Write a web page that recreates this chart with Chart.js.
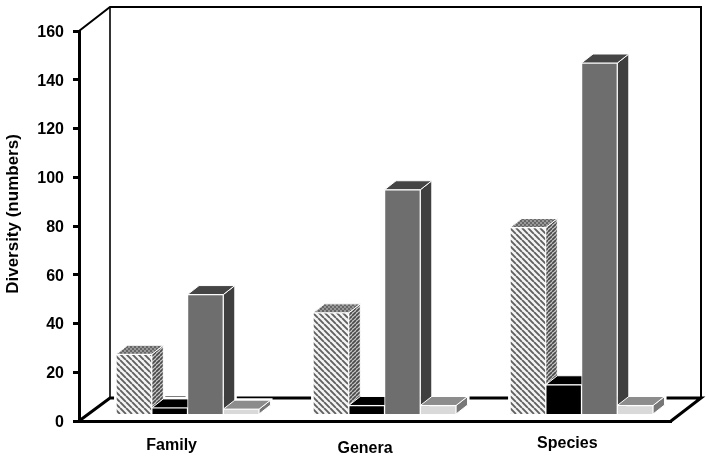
<!DOCTYPE html>
<html><head><meta charset="utf-8">
<style>html,body{margin:0;padding:0;background:#fff}canvas{display:block}</style>
<script src="https://cdn.jsdelivr.net/npm/chart.js@4"></script></head>
<body><canvas id="c" width="709" height="458"></canvas>
<script>
const categories = ["Family", "Genera", "Species"];
const seriesA = [24.5, 41.5, 76.5];
const seriesB = [2.5, 3.5, 12];
const seriesC = [49, 92, 144];
const seriesD = [2, 3.5, 3.5];
const yTitle = "Diversity (numbers)";

function tile(bg, fg, size, lw, dir) {
  const c = document.createElement('canvas'); c.width = c.height = size;
  const g = c.getContext('2d');
  g.fillStyle = bg; g.fillRect(0, 0, size, size);
  g.strokeStyle = fg; g.lineWidth = lw; g.beginPath();
  for (let i = -size; i <= size * 2; i += size) {
    g.moveTo(i, 0); g.lineTo(i + size * dir, size);
  }
  g.stroke();
  return g.createPattern(c, 'repeat');
}
function dots(bg, fg) {
  const c = document.createElement('canvas'); c.width = c.height = 4;
  const g = c.getContext('2d');
  g.fillStyle = bg; g.fillRect(0, 0, 4, 4);
  g.fillStyle = fg; g.fillRect(0, 0, 2, 2); g.fillRect(2, 2, 2, 2);
  return g.createPattern(c, 'repeat');
}
const frontHatch = tile('#f4f4f4', '#606060', 6, 1.9, 1);
const sideHatch = tile('#c8c8c8', '#4a4a4a', 4, 1.7, -1);
const topHatch = dots('#999999', '#666666');

const faces = [
  {side: sideHatch, top: topHatch},
  {side: '#000000', top: '#000000'},
  {side: '#3f3f3f', top: '#454545'},
  {side: '#777777', top: '#8c8c8c'}
];
const fronts = [frontHatch, '#000000', '#6e6e6e', '#d9d9d9'];
const DX = 11.5, DY = 9;
const WX = 31, WY = 24;
const labelNudge = [[-6, 2], [-10, 5], [-5, 0]];

const box3d = {
  id: 'box3d',
  beforeDraw(chart) {
    chart.scales.x.getLabelItems().forEach((it, i) => {
      if (it._moved) return;
      it.options.translation = [it.options.translation[0] + labelNudge[i][0],
                                it.options.translation[1] + labelNudge[i][1]];
      it._moved = true;
    });
  },
  beforeDatasetsDraw(chart) {
    const g = chart.ctx, a = chart.chartArea;
    g.save();
    g.strokeStyle = '#000'; g.lineJoin = 'miter';
    g.lineWidth = 2;
    g.beginPath();
    g.moveTo(a.left, a.top); g.lineTo(a.left + WX, a.top - WY);
    g.lineTo(a.right + WX - 1, a.top - WY);
    g.lineTo(a.right + WX - 1, a.bottom - WY + 1);
    g.stroke();
    g.lineWidth = 1.6;
    g.beginPath();
    g.moveTo(a.left + WX, a.top - WY); g.lineTo(a.left + WX, a.bottom - WY + 1);
    g.stroke();
    g.lineWidth = 3;
    g.beginPath();
    g.moveTo(a.left, a.bottom); g.lineTo(a.left + WX, a.bottom - WY + 1);
    g.lineTo(a.right + WX - 1, a.bottom - WY + 1);
    g.lineTo(a.right, a.bottom);
    g.stroke();
    g.strokeStyle = '#fff';
    chart.data.datasets.forEach((ds, d) => {
      chart.getDatasetMeta(d).data.forEach(b => {
        const p = b.getProps(['x', 'y', 'base', 'width'], true);
        const l = p.x - p.width / 2, r = p.x + p.width / 2;
        g.lineWidth = 4;
        g.beginPath();
        g.moveTo(l, p.base); g.lineTo(l, p.y); g.lineTo(l + DX, p.y - DY);
        g.lineTo(r + DX, p.y - DY); g.lineTo(r + DX, p.base - DY); g.lineTo(r, p.base);
        g.closePath(); g.stroke();
      });
    });
    g.lineWidth = 1;
    chart.data.datasets.forEach((ds, d) => {
      chart.getDatasetMeta(d).data.forEach(b => {
        const p = b.getProps(['x', 'y', 'base', 'width'], true);
        const l = p.x - p.width / 2, r = p.x + p.width / 2;
        g.fillStyle = faces[d].side;
        g.beginPath();
        g.moveTo(r, p.y); g.lineTo(r + DX, p.y - DY);
        g.lineTo(r + DX, p.base - DY); g.lineTo(r, p.base);
        g.closePath(); g.fill(); g.stroke();
        g.fillStyle = faces[d].top;
        g.beginPath();
        g.moveTo(l, p.y); g.lineTo(l + DX, p.y - DY);
        g.lineTo(r + DX, p.y - DY); g.lineTo(r, p.y);
        g.closePath(); g.fill(); g.stroke();
      });
    });
    g.restore();
  },
  afterDraw(chart) {
    const g = chart.ctx;
    g.save();
    g.translate(17.5, 214);
    g.rotate(-Math.PI / 2);
    g.fillStyle = '#000';
    g.font = 'bold 17px "Liberation Sans"';
    g.textAlign = 'center';
    g.textBaseline = 'alphabetic';
    g.fillText(yTitle, 0, 0);
    g.restore();
  }
};

const toPoints = arr => arr.map((v, i) => ({x: i, y: v}));
const mk = (arr, i, name) => ({
  label: name, data: toPoints(arr), xAxisID: 'xBars', yAxisID: 'yBars',
  backgroundColor: fronts[i], borderColor: '#ffffff', borderWidth: 1,
  barThickness: 35.75, grouped: true
});

new Chart(document.getElementById('c'), {
  type: 'bar',
  data: {
    labels: categories,
    datasets: [mk(seriesA, 0, 'A'), mk(seriesB, 1, 'B'), mk(seriesC, 2, 'C'), mk(seriesD, 3, 'D')]
  },
  plugins: [box3d],
  options: {
    responsive: false, animation: false,
    layout: {padding: {left: 0, right: 38, top: 31, bottom: 0}},
    plugins: {legend: {display: false}, tooltip: {enabled: false}},
    scales: {
      x: {
        type: 'category', offset: true, position: 'bottom',
        grid: {display: false, drawTicks: false},
        border: {display: true, color: '#000', width: 3},
        ticks: {color: '#000', font: {family: '"Liberation Sans"', size: 16, weight: 'bold'}, padding: 13, maxRotation: 0},
        afterFit(s) { s.height = 37; }
      },
      xBars: {type: 'linear', axis: 'x', display: false, offset: false, min: -0.551, max: 2.454, grid: {display: false}},
      y: {
        type: 'linear', position: 'left', min: 0, max: 160,
        grid: {drawOnChartArea: false, color: '#000', lineWidth: 3, tickLength: 6},
        border: {display: true, color: '#000', width: 3},
        ticks: {stepSize: 20, color: '#000', padding: 9, labelOffset: 1.5, font: {family: '"Liberation Sans"', size: 16, weight: 'bold'}},
        afterFit(s) { s.width = 79; }
      },
      yBars: {type: 'linear', axis: 'y', display: false, position: 'left', min: -2.87, max: 157.13, grid: {display: false}}
    }
  }
});
</script></body></html>
